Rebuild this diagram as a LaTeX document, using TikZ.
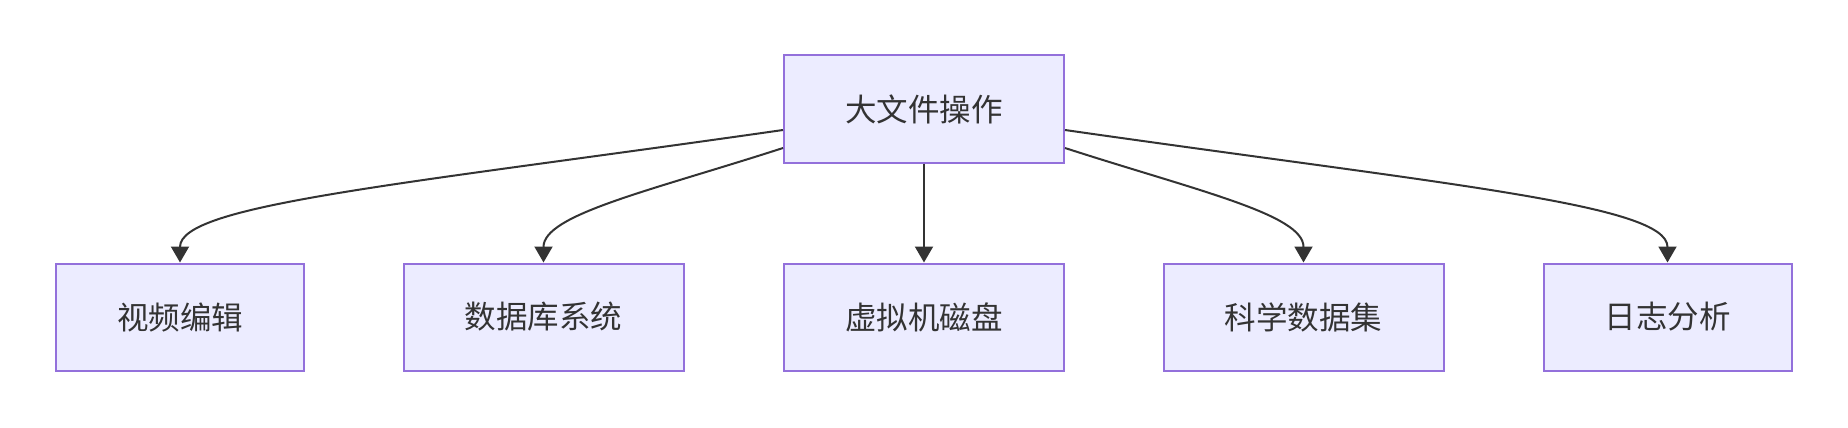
\documentclass[tikz,border=0pt]{standalone}
\usepackage{fontspec}
\usepackage{tikz}
\usetikzlibrary{arrows.meta}
\newfontfamily\cjk{Noto Sans CJK SC}
\definecolor{boxfill}{HTML}{ECECFF}
\definecolor{boxline}{HTML}{9370DB}
\definecolor{inkgray}{HTML}{333333}

\begin{document}
\begin{tikzpicture}[x=1pt,y=-1pt,
    opbox/.style={draw=boxline,fill=boxfill,line width=2pt,minimum height=107pt,
      text=inkgray,font=\cjk\fontsize{31.5pt}{36pt}\selectfont,inner sep=0pt},
    link/.style={draw=inkgray,line width=2pt,-{Triangle[length=16pt,width=18pt]}}]
  % Canvas
  \useasboundingbox (0,0) rectangle (1848,428);
  % Top node
  \node[opbox,minimum width=280pt] (big) at (924,109) {大文件操作};
  % Bottom row
  \node[opbox,minimum width=248pt] (video) at (180,317) {视频编辑};
  \node[opbox,minimum width=280pt] (db) at (543.5,317) {数据库系统};
  \node[opbox,minimum width=280pt] (vm) at (924,317) {虚拟机磁盘};
  \node[opbox,minimum width=280pt] (sci) at (1303.5,317) {科学数据集};
  \node[opbox,minimum width=248pt] (logs) at (1667.5,317) {日志分析};
  % Connectors
  \draw[link] ([yshift=-21pt]big.west) .. controls +(-384,55) and +(0,-58) .. (video.north);
  \draw[link] ([yshift=-39pt]big.west) .. controls +(-133,43) and +(0,-48) .. (db.north);
  \draw[link] (big.south) -- (vm.north);
  \draw[link] ([yshift=-39pt]big.east) .. controls +(133,43) and +(0,-48) .. (sci.north);
  \draw[link] ([yshift=-21pt]big.east) .. controls +(384,55) and +(0,-58) .. (logs.north);
\end{tikzpicture}
\end{document}
